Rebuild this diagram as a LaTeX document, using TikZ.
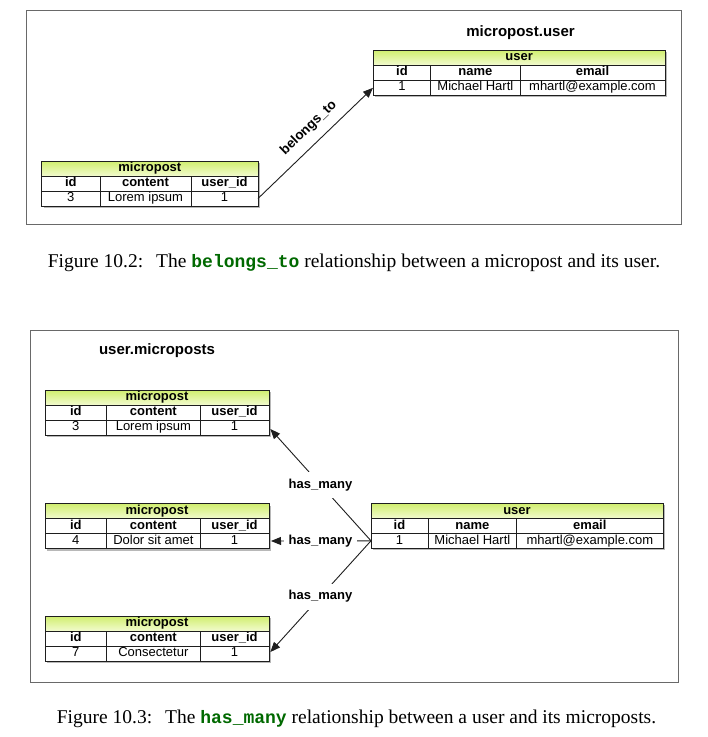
\documentclass[tikz,border=0pt]{standalone}
\usepackage{fontspec}
\setmainfont{Liberation Sans}
\newfontfamily\capserif{Liberation Serif}
\newfontfamily\codemono{Liberation Mono}
\usetikzlibrary{arrows.meta}
\definecolor{hdrtop}{RGB}{208,238,110}
\definecolor{hdrbot}{RGB}{242,251,206}
\definecolor{codegreen}{RGB}{0,105,0}
\definecolor{framegray}{RGB}{105,105,105}
\definecolor{lineblk}{RGB}{30,30,30}
\tikzset{
  cellbase/.style={draw=lineblk, line width=1pt, inner sep=0pt, outer sep=0pt,
    minimum height=15pt, anchor=north west, text height=9.3pt, text depth=2.6pt,
    align=center, font=\fontsize{13}{15}\selectfont},
  thead/.style={cellbase, top color=hdrtop, bottom color=hdrbot,
    font=\fontsize{13}{15}\selectfont\bfseries},
  colh/.style={cellbase, fill=white, font=\fontsize{13}{15}\selectfont\bfseries},
  cellv/.style={cellbase, fill=white},
  tshadow/.style={fill=black!28},
  framebox/.style={draw=framegray, line width=1pt},
  titletext/.style={font=\fontsize{15}{18}\selectfont\bfseries, inner sep=0pt},
  rel/.style={font=\fontsize{13}{15}\selectfont\bfseries, fill=white, inner xsep=5pt, inner ysep=7pt},
  conn/.style={draw=lineblk, line width=0.9pt, -{Triangle[length=10pt,width=8pt]}, shorten >=2pt},
  captext/.style={font=\capserif\fontsize{19.5}{23}\selectfont, inner sep=0pt}
}
\newcommand\codetxt[1]{{\codemono\bfseries\fontsize{18}{23}\selectfont\color{codegreen}#1}}
% name, x0, y0, w1, w2, w3, title
\newcommand\tbltop[7]{%
  \fill[tshadow] ({#2+2},{#3+2}) rectangle ({#2+#4+#5+#6+2},{#3+47});
  \node[thead, minimum width={(#4+#5+#6)*1pt}] (#1-t) at (#2,#3) {#7};
}
\newcommand\tblhead[7]{%
  \node[colh, minimum width=#2pt] (#1-h1) at (#1-t.south west) {#5};
  \node[colh, minimum width=#3pt] (#1-h2) at (#1-h1.north east) {#6};
  \node[colh, minimum width=#4pt] (#1-h3) at (#1-h2.north east) {#7};
}
\newcommand\tblvals[7]{%
  \node[cellv, minimum width=#2pt] (#1-v1) at (#1-h1.south west) {#5};
  \node[cellv, minimum width=#3pt] (#1-v2) at (#1-v1.north east) {#6};
  \node[cellv, minimum width=#4pt] (#1-v3) at (#1-v2.north east) {#7};
}
\begin{document}
\begin{tikzpicture}[x=1pt,y=-1pt]
\useasboundingbox (0,0) rectangle (708,737);
\fill[white] (0,0) rectangle (708,737);

% ---------- Figure 10.2 ----------
\draw[framebox] (26.7,10.3) rectangle (681,224);
\node[titletext] (t1) at (520.5,32.3) {micropost.user};

\tbltop{u1}{373.3}{50}{57.4}{89.3}{145}{user}
\tblhead{u1}{57.4}{89.3}{145}{id}{name}{email}
\tblvals{u1}{57.4}{89.3}{145}{1}{Michael Hartl}{mhartl@example.com}

\tbltop{m1}{41.7}{161}{58.3}{91}{67}{micropost}
\tblhead{m1}{58.3}{91}{67}{id}{content}{user\_id}
\tblvals{m1}{58.3}{91}{67}{3}{Lorem ipsum}{1}

\draw[conn, shorten >=0.5pt] (m1-v3.east) -- (u1-v1.west);
\node[font=\fontsize{13.5}{15}\selectfont\bfseries, inner sep=0pt, rotate=43.9] (bt) at (308.6,128) {belongs\_to};

\node[captext] (cap1) at (354,263) {Figure 10.2:\hspace{13pt}The \codetxt{belongs\_to} relationship between a micropost and its user.};

% ---------- Figure 10.3 ----------
\draw[framebox] (30.5,330.7) rectangle (678.3,682);
\node[titletext] (t2) at (157,351) {user.microposts};

\tbltop{m2a}{45}{390}{61.7}{93.3}{69}{micropost}
\tblhead{m2a}{61.7}{93.3}{69}{id}{content}{user\_id}
\tblvals{m2a}{61.7}{93.3}{69}{3}{Lorem ipsum}{1}

\tbltop{m2b}{45}{503.5}{61.7}{93.3}{69}{micropost}
\tblhead{m2b}{61.7}{93.3}{69}{id}{content}{user\_id}
\tblvals{m2b}{61.7}{93.3}{69}{4}{Dolor sit amet}{1}

\tbltop{m2c}{45}{616}{61.7}{93.3}{69}{micropost}
\tblhead{m2c}{61.7}{93.3}{69}{id}{content}{user\_id}
\tblvals{m2c}{61.7}{93.3}{69}{7}{Consectetur}{1}

\tbltop{u2}{371}{503.3}{57}{88.7}{146.3}{user}
\tblhead{u2}{57}{88.7}{146.3}{id}{name}{email}
\tblvals{u2}{57}{88.7}{146.3}{1}{Michael Hartl}{mhartl@example.com}

\draw[conn] (u2-v1.west) -- node[rel, pos=0.495] (hm1) {has\_many} (m2a-v3.east);
\draw[conn] (u2-v1.west) -- node[rel, pos=0.495] (hm2) {has\_many} (m2b-v3.east);
\draw[conn] (u2-v1.west) -- node[rel, pos=0.495] (hm3) {has\_many} (m2c-v3.east);

\node[captext] (cap2) at (356.5,719) {Figure 10.3:\hspace{13pt}The \codetxt{has\_many} relationship between a user and its microposts.};
\end{tikzpicture}
\end{document}
